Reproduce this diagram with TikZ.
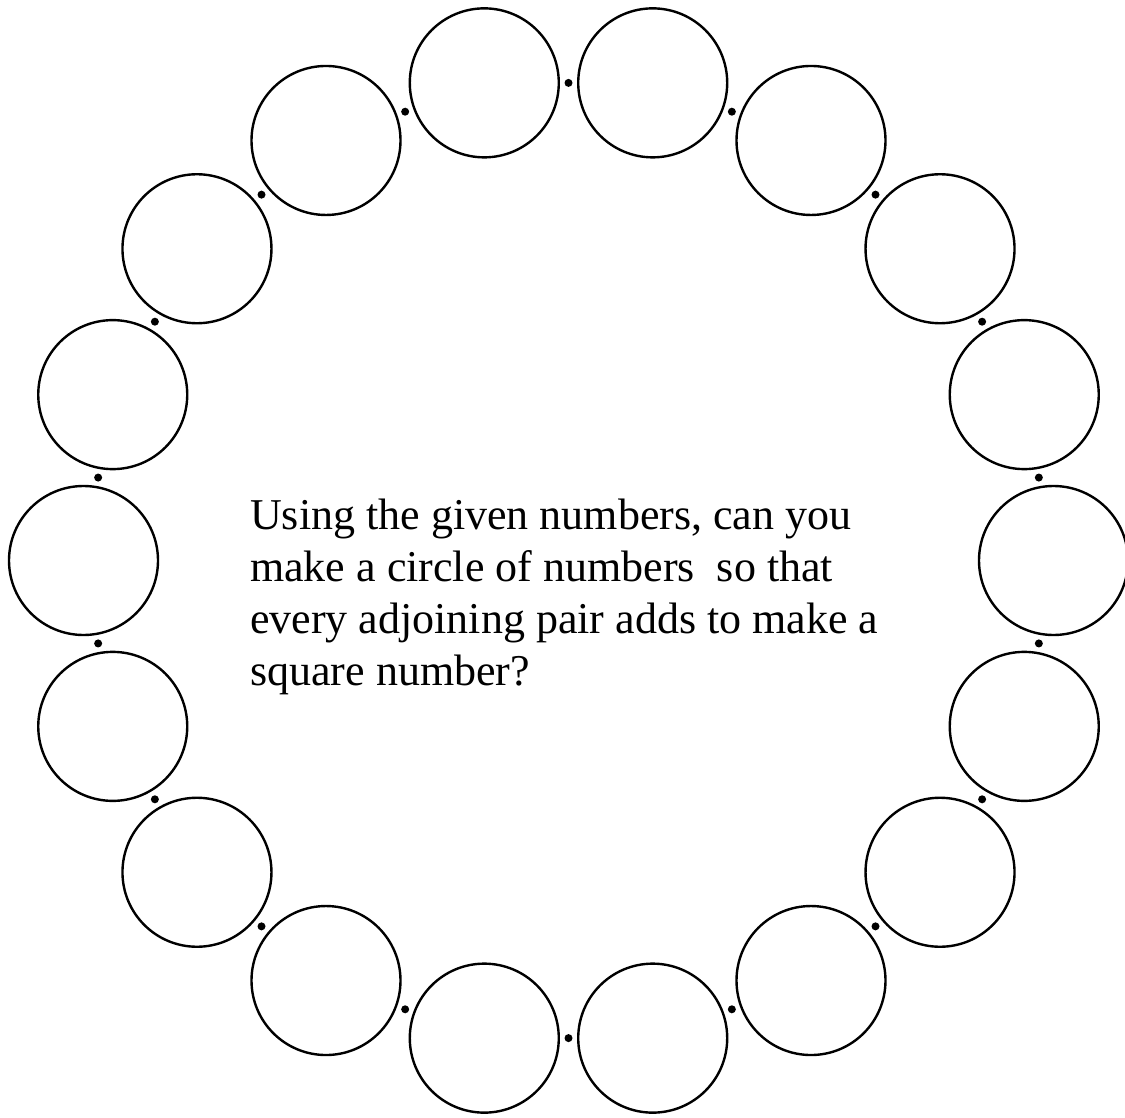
\documentclass[tikz,border=0pt]{standalone}
\usepackage{fontspec}
\setmainfont{Liberation Serif}
\begin{document}
\begin{tikzpicture}[x=1pt,y=-1pt,
  slot/.style={circle,draw,line width=2.4pt,minimum size=149pt,inner sep=0pt},
  sepdot/.style={circle,fill,inner sep=0pt,minimum size=8pt},
  puzzletext/.style={font=\fontsize{44}{52}\selectfont,align=left,inner sep=0pt,anchor=base west}]
\useasboundingbox (0,0) rectangle (1125,1118);
\foreach \i in {0,...,17}{
  \node[slot] (c\i) at ({568.5+485*cos(20*\i)},{560.5-485*sin(20*\i)}) {};
}
\foreach \i in {0,...,17}{
  \node[sepdot] (d\i) at ({568.5+477.6*cos(20*\i+10)},{560.5-477.6*sin(20*\i+10)}) {};
}
\node[puzzletext] (q) at (250,685) {Using the given numbers, can you\\make a circle of numbers\ \ so that\\every adjoining pair adds to make a\\square number?};
\end{tikzpicture}
\end{document}
